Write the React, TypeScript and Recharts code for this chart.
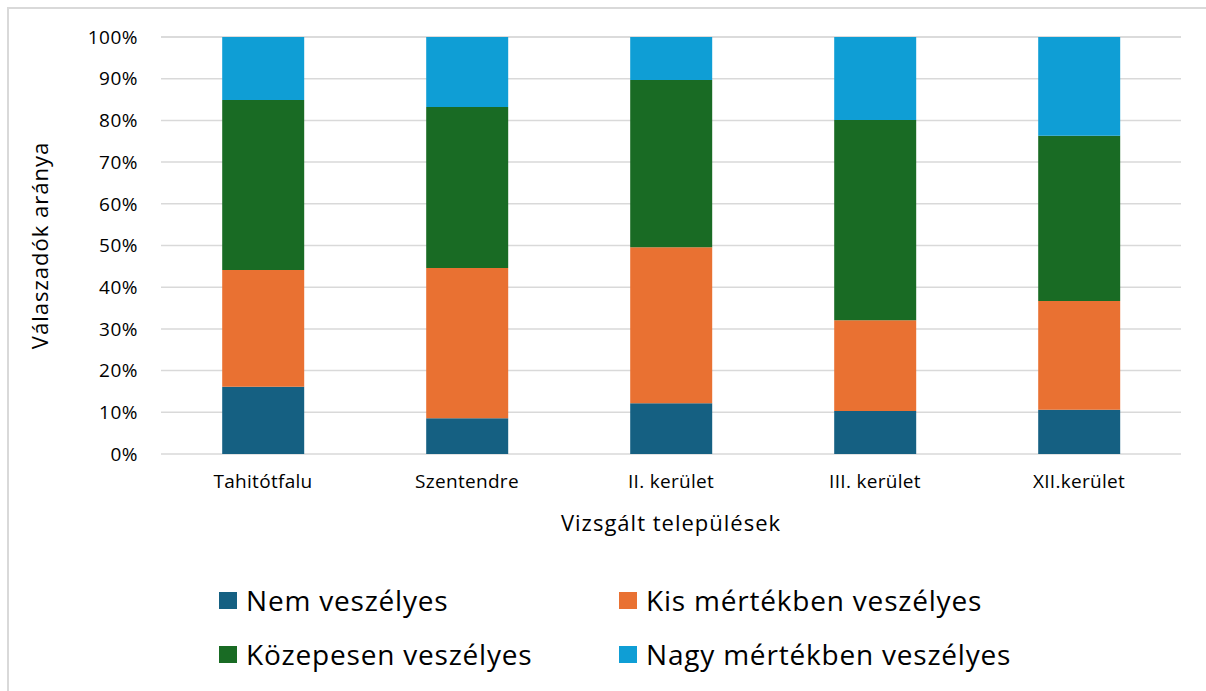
import { Bar, BarChart, CartesianGrid, XAxis, YAxis } from 'recharts';

const categories = ['Tahitótfalu', 'Szentendre', 'II. kerület', 'III. kerület', 'XII.kerület'];

const nemVeszelyes = [16.1, 8.6, 12.2, 10.3, 10.6];
const kisMertekben = [28.0, 36.0, 37.4, 21.8, 26.1];
const kozepesen = [40.8, 38.6, 40.1, 48.0, 39.6];
const nagyMertekben = [15.1, 16.8, 10.3, 19.9, 23.7];

const yTicks = [0, 10, 20, 30, 40, 50, 60, 70, 80, 90, 100];

const SERIES = [
  { key: 'nem', label: 'Nem veszélyes', color: '#156082', values: nemVeszelyes },
  { key: 'kis', label: 'Kis mértékben veszélyes', color: '#E97132', values: kisMertekben },
  { key: 'koz', label: 'Közepesen veszélyes', color: '#196B24', values: kozepesen },
  { key: 'nagy', label: 'Nagy mértékben veszélyes', color: '#0F9ED5', values: nagyMertekben },
];

const data = categories.map((name, i) => {
  const row: Record<string, string | number> = { name };
  SERIES.forEach((s) => {
    row[s.key] = s.values[i];
  });
  return row;
});

const FONT = '"Open Sans", "Liberation Sans", sans-serif';

const legendPos = [
  { left: 210, top: 591 },
  { left: 610, top: 591 },
  { left: 210, top: 645 },
  { left: 610, top: 645 },
];

export default function App() {
  return (
    <div
      style={{
        position: 'fixed',
        left: 7,
        top: 7,
        width: 1205,
        height: 700,
        border: '2px solid #d9d9d9',
        boxSizing: 'border-box',
        background: '#fff',
        fontFamily: FONT,
      }}
    >
      <BarChart
        width={1195}
        height={540}
        data={data}
        margin={{ top: 28, right: 23, bottom: 15, left: 0 }}
        barCategoryGap="30%"
      >
        <CartesianGrid vertical={false} stroke="#d9d9d9" strokeWidth={1.5} />
        <XAxis
          dataKey="name"
          axisLine={false}
          tickLine={false}
          height={80}
          tickMargin={15}
          tick={{ fontSize: 19, fill: '#000', fontFamily: FONT, letterSpacing: 0.3 }}
          label={{
            value: 'Vizsgált települések',
            position: 'insideBottom',
            offset: 3,
            style: { fontSize: 22, fill: '#000', fontFamily: FONT, letterSpacing: 1 },
          }}
        />
        <YAxis
          width={152}
          domain={[0, 100]}
          ticks={yTicks}
          interval={0}
          axisLine={false}
          tickLine={false}
          tickMargin={17}
          tickFormatter={(v: number) => `${v}%`}
          tick={{ fontSize: 19, fill: '#000', fontFamily: FONT, letterSpacing: 0.5 }}
          label={{
            value: 'Válaszadók aránya',
            angle: -90,
            position: 'insideLeft',
            offset: 31,
            style: { textAnchor: 'middle', fontSize: 22, fill: '#000', fontFamily: FONT, letterSpacing: 1 },
          }}
        />
        {SERIES.map((s) => (
          <Bar
            key={s.key}
            dataKey={s.key}
            name={s.label}
            stackId="a"
            fill={s.color}
            isAnimationActive={false}
          />
        ))}
      </BarChart>
      {SERIES.map((s, i) => (
        <div
          key={s.key}
          style={{
            position: 'absolute',
            left: legendPos[i].left,
            top: legendPos[i].top - 20,
            height: 40,
            display: 'flex',
            alignItems: 'center',
            whiteSpace: 'nowrap',
          }}
        >
          <span style={{ width: 18, height: 17, background: s.color, marginRight: 9, display: 'inline-block' }} />
          <span style={{ fontSize: 28, color: '#000', letterSpacing: 0.8, lineHeight: '40px' }}>{s.label}</span>
        </div>
      ))}
    </div>
  );
}
